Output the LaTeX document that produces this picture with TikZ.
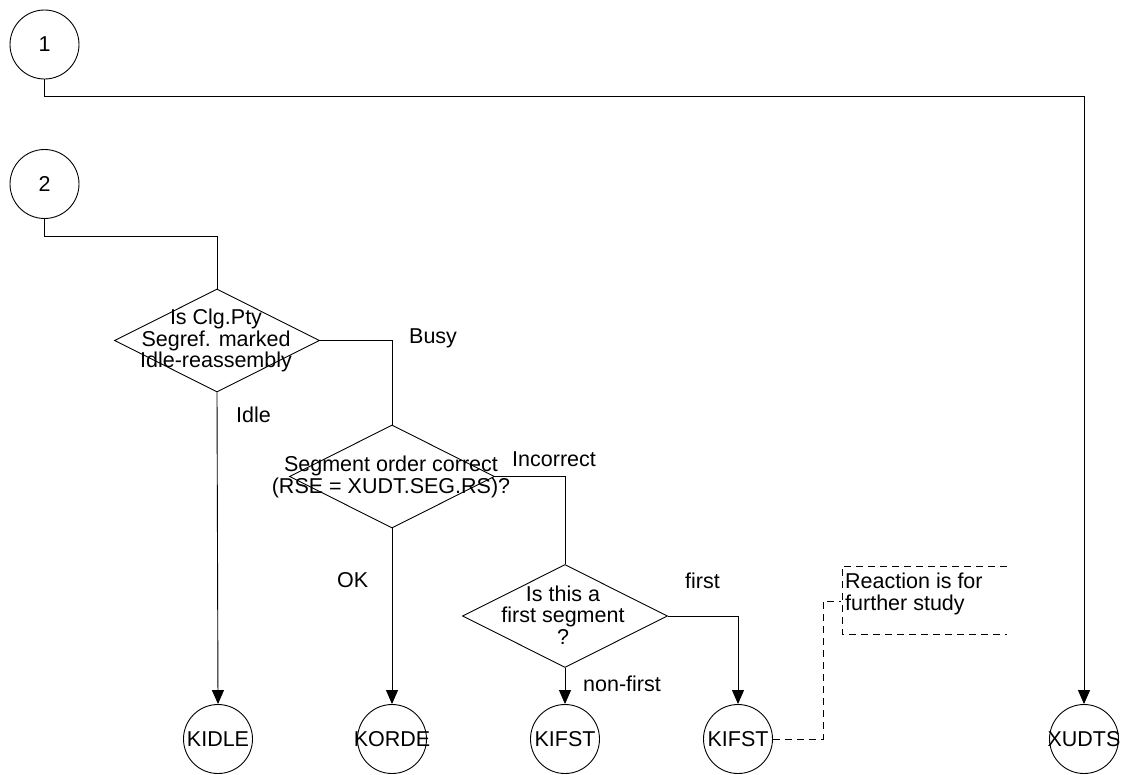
\documentclass[tikz,border=0pt]{standalone}
\usepackage{fontspec}
\setmainfont{Liberation Sans}
\usetikzlibrary{shapes.geometric,arrows.meta}
\tikzset{
 conn/.style={line width=0.9pt},
 arr/.style={conn, -{Triangle[width=12pt,length=14pt]}},
 dashline/.style={line width=0.9pt, dash pattern=on 7pt off 5pt},
 conncirc/.style={circle, draw, line width=0.9pt, minimum size=69pt, inner sep=0pt},
 decision/.style={diamond, draw, line width=0.9pt, minimum width=205pt, minimum height=103pt, inner sep=0pt},
 txt/.style={inner sep=0pt, align=center},
 lbl/.style={inner sep=0pt, anchor=base west},
}
\begin{document}
\begin{tikzpicture}[x=1pt,y=-1pt,font=\fontsize{21.5pt}{21.8pt}\selectfont]
\fill[white] (0,0) rectangle (1124,774);
\useasboundingbox (0,0) rectangle (1124,774);
% connectors (circles)
\node[conncirc] (c1) at (44.5,44.5) {1};
\node[conncirc] (c2) at (44.5,184) {2};
% decisions
\node[decision] (d1) at (217,340.5) {};
\node[txt] (d1t) at (216,340.5) {Is Clg.Pty\\Segref. marked\\Idle-reassembly};
\node[decision] (d2) at (392,476.5) {};
\node[txt] (d2t) at (391,477) {Segment order correct\\(RSE = XUDT.SEG.RS)?};
\node[decision] (d3) at (565,616) {};
\node[txt] (d3t) at (563,615) {Is this a\\first segment\\?};
% terminal connectors
\node[conncirc, label=center:KIDLE] (kidle) at (218,739) {};
\node[conncirc, label=center:KORDE] (korde) at (392,739) {};
\node[conncirc, label=center:KIFST] (kifst1) at (565,739) {};
\node[conncirc, label=center:KIFST] (kifst2) at (738,739) {};
\node[conncirc, label=center:XUDTS] (xudts) at (1084,739) {};
% branch labels
\node[lbl] (lbusy) at (409,343) {Busy};
\node[lbl] (lidle) at (236,422) {Idle};
\node[lbl] (linc) at (512,466) {Incorrect};
\node[lbl] (lok) at (337,587) {OK};
\node[lbl] (lfirst) at (685,588) {first};
\node[lbl] (lnonfirst) at (583,691) {non-first};
% lines
\coordinate (j1) at (1084,96);
\draw[arr] (c1.south) |- (j1) -- (xudts.north);
\coordinate (j2) at (217,236);
\draw[conn] (c2.south) |- (j2) -- (d1.north);
\draw[conn] (d1.east) -| (d2.north);
\draw[arr] (d1.south) -- (kidle.north);
\draw[conn] (d2.east) -| (d3.north);
\draw[arr] (d2.south) -- (korde.north);
\draw[arr] (d3.south) -- (kifst1.north);
\draw[arr] (d3.east) -| (kifst2.north);
% comment
\coordinate (k1) at (823,739);
\coordinate (k2) at (841,601);
\draw[dashline] (kifst2.east) -- (k1) |- (k2);
\coordinate (n1) at (1007,566);
\coordinate (n2) at (842,566);
\coordinate (n3) at (842,634);
\coordinate (n4) at (1007,634);
\draw[dashline] (n1) -- (n2) -- (n3) -- (n4);
\node[anchor=north west, inner sep=0pt, align=left] (note) at (845,573) {Reaction is for\\further study};
\end{tikzpicture}
\end{document}
